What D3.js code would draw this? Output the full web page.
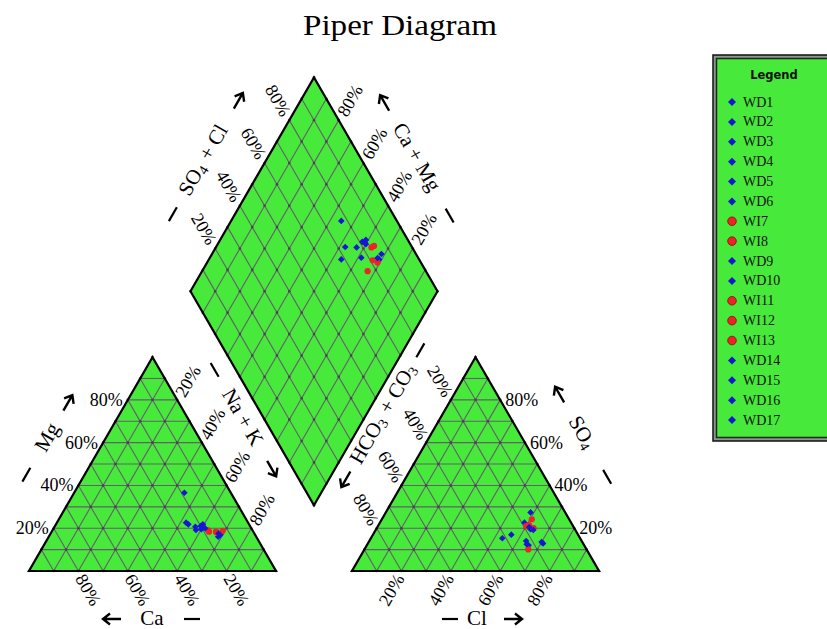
<!DOCTYPE html>
<html><head><meta charset="utf-8">
<script src="https://cdn.jsdelivr.net/npm/d3@7"></script>
<style>html,body{margin:0;padding:0;background:#fff;} svg{display:block;}</style>
</head><body>
<svg id="chart" width="827" height="629"></svg>
<script>
// ---------- data (percent of meq) ----------
const sampleNames = ["WD1","WD2","WD3","WD4","WD5","WD6","WI7","WI8","WD9","WD10","WI11","WI12","WI13","WD14","WD15","WD16","WD17"];
const sampleGroup = ["WD","WD","WD","WD","WD","WD","WI","WI","WD","WD","WI","WI","WI","WD","WD","WD","WD"];
const caValues   = [18.8,25.1,24.6,22.3,22.8,18.7,17.9,18.0,15.4,14.0,15.1,12.2,15.0,18.7,20.0,20.5,14.5];
const mgValues   = [36.6,22.6,21.8,20.7,19.2,21.8,18.4,19.0,16.0,17.0,18.4,18.8,18.0,20.0,21.0,19.5,17.5];
const nakValues  = [44.6,52.3,53.6,57.0,58.0,59.5,63.7,63.0,68.6,69.0,66.5,69.0,67.0,61.3,59.0,60.0,68.0];
const hco3Values = [22.5,27.0,31.5,22.5,18.9,18.0,15.1,16.5,14.0,16.2,19.0,17.6,23.6,23.0,17.0,18.0,16.5];
const so4Values  = [14.0,17.0,15.3,12.0,22.6,19.5,24.2,20.0,27.4,12.9,21.0,21.5,10.1,12.5,19.2,20.5,13.5];
const clValues   = [63.5,56.0,53.2,65.5,58.5,62.5,60.7,63.5,58.6,70.9,60.0,60.9,66.3,64.5,63.8,61.5,70.0];
const tickValues = [20,40,60,80];
const tickLabels = ["20%","40%","60%","80%"];
const groupNames = ["WD","WI"];

// ---------- setup ----------
const svg = d3.select("#chart");
const GREEN = "#47ea3b", GRID = "#655e6b", BLUE = "#1616d4", RED = "#ee2424";
const SERIF = "'Liberation Serif','Times New Roman',serif";
const side = 247, tri = side*Math.sqrt(3)/2, gap = 76, x0 = 29, baseY = 571;

const half = d3.scaleLinear().domain([0,100]).range([0, side/2]);
const rise = d3.scaleLinear().domain([0,100]).range([0, tri]);
const catX = d3.scaleLinear().domain([0,100]).range([x0, x0+side]);
const anX  = d3.scaleLinear().domain([0,100]).range([x0+side+gap, x0+2*side+gap]);
const yTri = d3.scaleLinear().domain([0,100]).range([baseY, baseY-tri]);
const color = d3.scaleOrdinal().domain(groupNames).range([BLUE, RED]);

const L = {x:catX(0), y:baseY}, R = {x:catX(100), y:baseY}, A = {x:catX(0)+side/2, y:yTri(100)};
const L2 = {x:anX(0), y:baseY}, R2 = {x:anX(100), y:baseY}, A2 = {x:anX(0)+side/2, y:yTri(100)};
const B = {x:(R.x+L2.x)/2, y: baseY - (gap/2)*Math.sqrt(3)};
const DL = {x:B.x-side/2, y:B.y-tri}, DR = {x:B.x+side/2, y:B.y-tri}, T = {x:B.x, y:B.y-2*tri};

const lerp = (p,q,t) => ({x:p.x+(q.x-p.x)*t, y:p.y+(q.y-p.y)*t});

function catPt(i){ return [catX(nakValues[i]) + half(mgValues[i]), yTri(mgValues[i])]; }
function anPt(i){ return [anX(clValues[i]) + half(so4Values[i]), yTri(so4Values[i])]; }
function diaPt(i){
  const C = caValues[i]+mgValues[i], S = so4Values[i]+clValues[i];
  return [B.x + half(S) - half(C), B.y - rise(S) - rise(C)];
}

// ---------- shapes ----------
const gShapes = svg.append("g");
const polys = [[L,R,A],[L2,R2,A2],[B,DR,T,DL]];
gShapes.selectAll("polygon.fill").data(polys).join("polygon")
  .attr("class","fill")
  .attr("points", d => d.map(p => p.x+","+p.y).join(" "))
  .attr("fill", GREEN);

const segs = [];
const dots = [];
function triGrid(P0,P1,P2){
  for(let i=1;i<10;i++){
    const t=i/10;
    segs.push([lerp(P0,P2,t), lerp(P1,P2,t)]);
    segs.push([lerp(P0,P1,t), lerp(P0,P2,t)]);
    segs.push([lerp(P1,P0,t), lerp(P1,P2,t)]);
  }
  for(let i=0;i<=10;i++) for(let j=0;j<=10-i;j++){
    const a=i/10,b=j/10;
    dots.push({x:P0.x+(P1.x-P0.x)*a+(P2.x-P0.x)*b, y:P0.y+(P1.y-P0.y)*a+(P2.y-P0.y)*b});
  }
}
triGrid(L,R,A); triGrid(L2,R2,A2);
for(let i=1;i<10;i++){
  const t=i/10;
  segs.push([lerp(B,DR,t), lerp(DL,T,t)]);
  segs.push([lerp(B,DL,t), lerp(DR,T,t)]);
}
for(let i=0;i<=10;i++) for(let j=0;j<=10;j++){
  const a=i/10,b=j/10;
  dots.push({x:B.x+(DR.x-B.x)*a+(DL.x-B.x)*b, y:B.y+(DR.y-B.y)*a+(DL.y-B.y)*b});
}
gShapes.selectAll("line.grid").data(segs).join("line")
  .attr("class","grid")
  .attr("x1",d=>d[0].x).attr("y1",d=>d[0].y).attr("x2",d=>d[1].x).attr("y2",d=>d[1].y)
  .attr("stroke",GRID).attr("stroke-width",1.1);
gShapes.selectAll("circle.node").data(dots).join("circle")
  .attr("class","node").attr("cx",d=>d.x).attr("cy",d=>d.y).attr("r",1.3).attr("fill","#4a4252");
gShapes.selectAll("polygon.edge").data(polys).join("polygon")
  .attr("class","edge")
  .attr("points", d => d.map(p => p.x+","+p.y).join(" "))
  .attr("fill","none").attr("stroke","#000").attr("stroke-width",2.2).attr("stroke-linejoin","miter");

// ---------- tick labels ----------
const gTicks = svg.append("g").attr("font-family",SERIF).attr("font-size",18).attr("fill","#000");
function tickSet(posFn, rot, dx, anchor){
  gTicks.append("g").selectAll("text").data(tickValues).join("text")
    .attr("transform",(v)=>{const p=posFn(v); return `translate(${p.x},${p.y}) rotate(${rot})`;})
    .attr("x",dx).attr("text-anchor",anchor).attr("dominant-baseline","central")
    .text((v,i)=>tickLabels[i]);
}
tickSet(v=>lerp(L,A,v/100), 0, -5, "end");                 // Mg
tickSet(v=>({x:catX(100-v), y:baseY+2}), 60, 3, "start");  // Ca
tickSet(v=>lerp(R,A,1-v/100), -60, 5, "start");            // Na+K
tickSet(v=>lerp(R2,A2,v/100), 0, 5, "start");              // SO4
tickSet(v=>lerp(L2,A2,1-v/100), 60, -5, "end");            // HCO3+CO3
tickSet(v=>({x:anX(v), y:baseY+2}), -60, -3, "end");       // Cl
tickSet(v=>lerp(DL,T,v/100), 60, -6, "end");               // SO4+Cl
tickSet(v=>lerp(DR,T,v/100), -60, 6, "start");             // Ca+Mg

// ---------- axis titles ----------
const gTitles = svg.append("g").attr("font-family",SERIF).attr("font-size",21).attr("fill","#000");
function rich(sel, parts){
  parts.forEach(p=>{
    if(typeof p === "string") sel.append("tspan").text(p);
    else {
      sel.append("tspan").attr("font-size",14).attr("dy",5).text(p.sub);
      sel.append("tspan").attr("dy",-5).text("\u200A");
    }
  });
}
function axisTitle(cx, cy, rot, items){
  const g = gTitles.append("g").attr("transform",`translate(${cx},${cy}) rotate(${rot})`);
  items.forEach(([kind, content, off])=>{
    if(kind==="label"){
      const t = g.append("text").attr("x",off).attr("text-anchor","middle").attr("dominant-baseline","central");
      rich(t, content);
    } else if(kind==="dash"){
      g.append("line").attr("x1",off-8).attr("x2",off+8).attr("y1",1).attr("y2",1)
        .attr("stroke","#000").attr("stroke-width",2.2);
    } else {
      const d = kind==="fwd" ? 1 : -1;
      const tip = off + 9*d, tail = off - 9*d;
      g.append("path").attr("d",`M${tail},1 L${tip},1 M${tip-7*d},-4.5 L${tip},1 L${tip-7*d},6.5`)
        .attr("fill","none").attr("stroke","#000").attr("stroke-width",2.4).attr("stroke-linejoin","miter");
    }
  });
}
axisTitle(47,437,-60,[["dash",null,-43],["label",["Mg"],0],["fwd",null,40]]);
axisTitle(243,417,60,[["dash",null,-55],["label",["Na + K"],0],["fwd",null,59]]);
axisTitle(152,618,0,[["back",null,-40],["label",["Ca"],0],["dash",null,40]]);
axisTitle(477,618,0,[["dash",null,-27],["label",["Cl"],0],["fwd",null,36]]);
axisTitle(383,413,-60,[["back",null,-76],["label",["HCO",{sub:"3"}," + CO",{sub:"3"}],0],["dash",null,73]]);
axisTitle(583,433,60,[["back",null,-45],["label",["SO",{sub:"4"}],0],["dash",null,50]]);
axisTitle(203,160,-60,[["dash",null,-62],["label",["SO",{sub:"4"}," + Cl"],0],["fwd",null,69]]);
axisTitle(417,157,60,[["back",null,-63],["label",["Ca + Mg"],0],["dash",null,67]]);

// ---------- points ----------
const idx = d3.range(sampleNames.length);
const diamondSym = d3.symbol().type(d3.symbolSquare).size(22);
const gPts = svg.append("g");
[catPt, anPt, diaPt].forEach(fn=>{
  const g = gPts.append("g");
  idx.forEach(i=>{
    const [x,y] = fn(i);
    if(sampleGroup[i]==="WD"){
      g.append("path").attr("d",diamondSym()).attr("transform",`translate(${x},${y}) rotate(45)`).attr("fill",color("WD"));
    } else {
      g.append("circle").attr("cx",x).attr("cy",y).attr("r",3.1).attr("fill",color("WI"));
    }
  });
});

// ---------- title ----------
svg.append("text").attr("x",400).attr("y",35).attr("text-anchor","middle")
  .attr("font-family",SERIF).attr("font-size",30).attr("textLength",194).attr("lengthAdjust","spacingAndGlyphs")
  .text("Piper Diagram");

// ---------- legend ----------
const lg = svg.append("g");
lg.append("rect").attr("x",713).attr("y",55).attr("width",130).attr("height",386)
  .attr("fill","#8a9a8a").attr("stroke","#111").attr("stroke-width",1.5);
lg.append("rect").attr("x",716.5).attr("y",58.5).attr("width",130).attr("height",379)
  .attr("fill",GREEN).attr("stroke","#222").attr("stroke-width",1.5);
lg.append("text").attr("x",774).attr("y",75).attr("text-anchor","middle").attr("dominant-baseline","central")
  .attr("font-family","'DejaVu Sans',Verdana,sans-serif").attr("font-weight","bold").attr("font-size",11.5).attr("fill","#111")
  .text("Legend");
const legY = d3.scaleLinear().domain([0,sampleNames.length-1]).range([102,420]);
const legSym = d3.symbol().type(d3.symbolSquare).size(32);
idx.forEach(i=>{
  const y = legY(i);
  if(sampleGroup[i]==="WD"){
    lg.append("path").attr("d",legSym()).attr("transform",`translate(732,${y}) rotate(45)`).attr("fill",color("WD"));
  } else {
    lg.append("circle").attr("cx",732).attr("cy",y).attr("r",4.3).attr("fill",color("WI")).attr("stroke","#7a1010").attr("stroke-width",0.8);
  }
  lg.append("text").attr("x",743).attr("y",y).attr("dominant-baseline","central")
    .attr("font-family",SERIF).attr("font-size",14).attr("fill","#111").text(sampleNames[i]);
});
</script>
</body></html>
